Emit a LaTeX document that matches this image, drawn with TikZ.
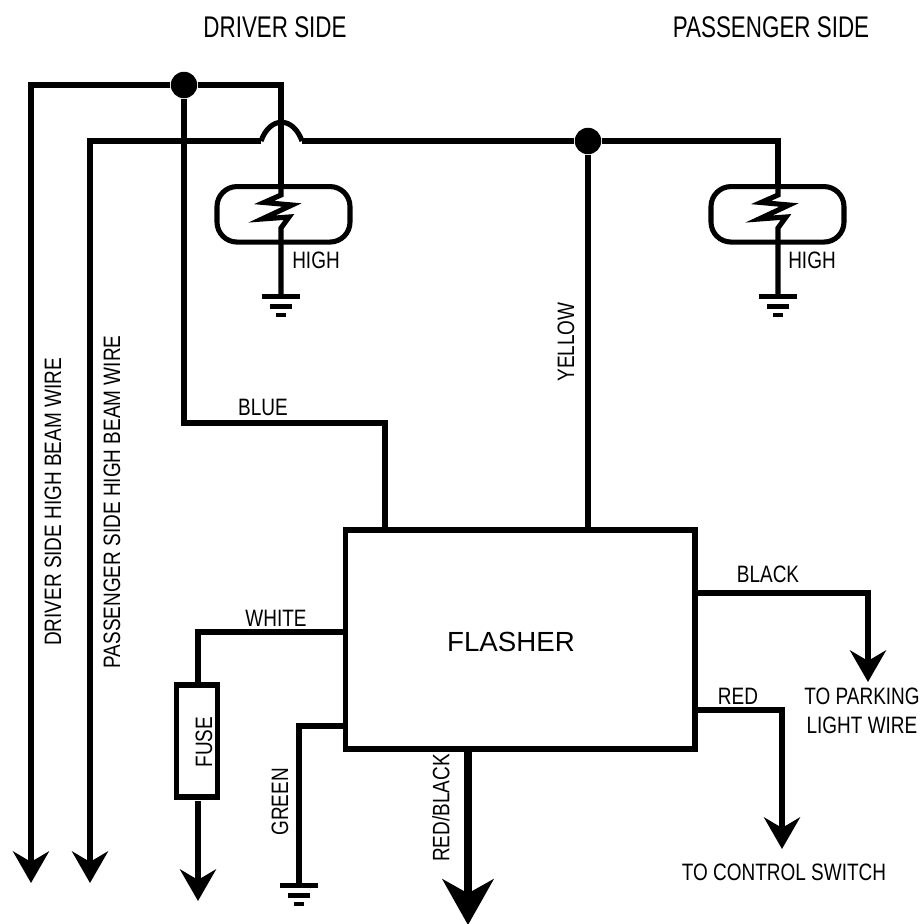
\documentclass[tikz,border=0pt]{standalone}
\usepackage{fontspec}
\usetikzlibrary{arrows.meta}
\setmainfont[FakeStretch=0.8]{Liberation Sans}
\newfontfamily\flasherFont{Liberation Sans}
\newfontfamily\headFont[FakeStretch=0.75]{Liberation Sans}
\tikzstyle{diagram} = [x = .02cm, y = -.02cm]
\tikzstyle{wire} = [line width=2.9pt, line join=miter]
\tikzstyle{wireArrow} = [wire, -{Stealth[length=18pt, width=20.5pt, inset=6pt]}]
\tikzstyle{mainArrow} = [line width=4.6pt, -{Stealth[length=26pt, width=29pt, inset=8pt]}]
\tikzstyle{junction} = [circle, fill=black, inner sep=0pt, minimum size=.53cm]
\tikzstyle{lamp} = [draw, line width=2.9pt, rounded corners=.4cm, minimum width=2.66cm, minimum height=1.11cm]
\tikzstyle{component} = [draw, line width=2.9pt, inner sep=0pt]
\tikzstyle{wireText} = [font=\fontsize{13.5}{16.4}\selectfont, inner sep=0pt, align=center]
\tikzstyle{headText} = [font=\headFont\fontsize{17}{20}\selectfont, inner sep=0pt]
\tikzstyle{sideWireText} = [wireText, rotate=90]
\newcommand{\groundSymbol}[2]{
  \fill (#1 - 19, #2 - 2.5) rectangle + (38, 5);
  \fill (#1 - 11, #2 + 8) rectangle + (22, 5);
  \fill (#1 - 5, #2 + 17) rectangle + (10, 4);
}
\newcommand{\lampFilament}[1]{
  \draw [wire] (#1, 185) -- (#1, 195) -- (#1 - 17, 202.5) -- (#1 + 11, 205) -- (#1 - 19, 219) -- (#1 + 8, 217) -- (#1, 228) -- (#1, 296);
}
\begin{document}
\begin{tikzpicture}[diagram]
  \useasboundingbox (0,0) rectangle (924,924);
  % headings
  \node [headText] (driverHead) at (275,27) {DRIVER SIDE};
  \node [headText] (passengerHead) at (771,27) {PASSENGER SIDE};
  % junctions and parts
  \node [junction] (driverDot) at (184,85) {};
  \node [junction] (yellowDot) at (588,141) {};
  \node [lamp] (driverLamp) at (283.5,214.3) {};
  \node [lamp] (passengerLamp) at (777.5,214.3) {};
  \node [component, minimum width=6.99cm, minimum height=4.38cm] (flasher) at (520.25,639.5) {};
  \node [component, minimum width=.83cm, minimum height=2.24cm] (fuse) at (197,741) {};
  % free ends of the wires
  \coordinate (driverEnd) at (31,883);
  \coordinate (passengerEnd) at (90,883);
  \coordinate (humpLeft) at (261,141);
  \coordinate (humpRight) at (302,141);
  \coordinate (blueBend) at (385,423);
  \coordinate (whiteBend) at (198,632);
  \coordinate (greenBend) at (299,726);
  \coordinate (blackBend) at (868,593);
  \coordinate (redBend) at (782,710);
  % high beam wires
  \draw [wireArrow] (driverDot) -- (31,85) -- (driverEnd);
  \draw [wireArrow] (humpLeft) -- (90,141) -- (passengerEnd);
  \draw [wire] (humpLeft) .. controls (270,116) and (293,116) .. (humpRight);
  \draw [wire] (humpRight) -- (yellowDot);
  \draw [wire] (yellowDot) -- (778,141) -- (passengerLamp.north -| 778,0);
  \draw [wire] (driverDot) -- (281,85) -- (driverLamp.north -| 281,0);
  % lamps
  \lampFilament{281}
  \lampFilament{778}
  \groundSymbol{281}{296}
  \groundSymbol{778}{296}
  % flasher wires
  \draw [wire] (driverDot) -- (184,423) -- (blueBend) -- (flasher.north -| blueBend);
  \draw [wire] (yellowDot) -- (flasher.north -| yellowDot);
  \draw [wire] (flasher.west |- whiteBend) -- (whiteBend) -- (fuse.north -| whiteBend);
  \draw [wireArrow] (198,801) -- (198,901);
  \draw [wire] (flasher.west |- greenBend) -- (greenBend) -- (299,885);
  \groundSymbol{299}{885}
  \draw [wireArrow] (flasher.east |- blackBend) -- (blackBend) -- (868,682);
  \draw [wireArrow] (flasher.east |- redBend) -- (redBend) -- (782,849);
  \draw [mainArrow] (flasher.south -| 468,0) -- (468,925);
  % labels
  \node [wireText] (flasherText) at (511,642) {\flasherFont\fontsize{15.75}{18}\selectfont FLASHER};
  \node [wireText] (driverHigh) at (316,260) {HIGH};
  \node [wireText] (passengerHigh) at (812,260) {HIGH};
  \node [wireText] (blueText) at (263,407) {BLUE};
  \node [wireText] (whiteText) at (276,618) {WHITE};
  \node [wireText] (blackText) at (768,574) {BLACK};
  \node [wireText] (redText) at (738,696) {RED};
  \node [wireText] (parkingText) at (862,710.5) {TO PARKING\\LIGHT WIRE};
  \node [wireText] (controlText) at (784,872) {TO CONTROL SWITCH};
  \node [sideWireText] (yellowText) at (566,342) {YELLOW};
  \node [sideWireText] (driverWireText) at (53,502) {DRIVER SIDE HIGH BEAM WIRE};
  \node [sideWireText] (passengerWireText) at (112,502) {PASSENGER SIDE HIGH BEAM WIRE};
  \node [sideWireText] (fuseText) at (204,742) {FUSE};
  \node [sideWireText] (greenText) at (280,802) {GREEN};
  \node [sideWireText] (redBlackText) at (441,808) {RED/BLACK};
\end{tikzpicture}
\end{document}
